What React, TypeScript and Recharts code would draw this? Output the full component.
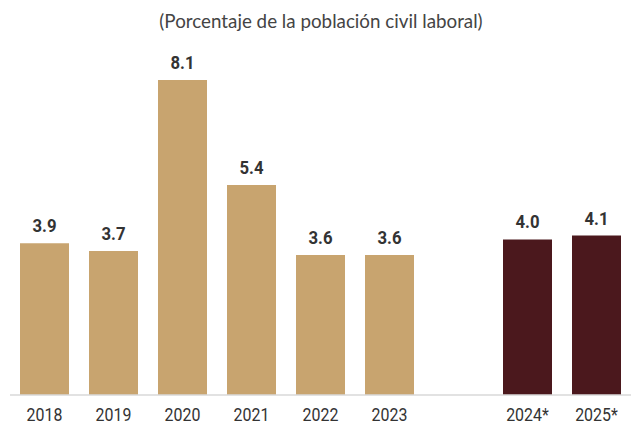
import { BarChart, Bar, XAxis, YAxis, Cell, LabelList } from "recharts";

const years = ["2018", "2019", "2020", "2021", "2022", "2023", "", "2024*", "2025*"];
const rates = [3.9, 3.7, 8.1, 5.4, 3.6, 3.6, null, 4.0, 4.1];
const projected = [false, false, false, false, false, false, false, true, true];

const data = years.map((year, i) => ({ year, rate: rates[i], projected: projected[i] }));

const TAN = "#C8A46F";
const MAROON = "#4B181D";

const YearTick = ({ x, y, payload }: any) => (
  <g transform={`translate(${x},${y})`}>
    <text
      transform="scale(0.84,1)"
      y={5}
      dy="0.71em"
      textAnchor="middle"
      fill="#333"
      fontSize={19}
      fontFamily="Roboto, sans-serif"
    >
      {payload.value}
    </text>
  </g>
);

const ValueLabel = ({ x, y, width, value }: any) => {
  if (value == null) return null;
  const cx = x + width / 2;
  return (
    <g transform={`translate(${cx},${y - 11})`}>
      <text
        transform="scale(0.88,1)"
        textAnchor="middle"
        fill="#333"
        fontSize={19}
        fontWeight={700}
        fontFamily="Roboto, sans-serif"
      >
        {Number(value).toFixed(1)}
      </text>
    </g>
  );
};

export default function App() {
  return (
    <div style={{ position: "absolute", left: 0, top: 0, width: 631, height: 427, background: "#fff" }}>
      <div
        style={{
          position: "absolute",
          top: 9,
          left: 0,
          width: 642,
          textAlign: "center",
          fontFamily: "Lato, 'Noto Sans', sans-serif",
          fontSize: 18.8,
          color: "#444",
        }}
      >
        (Porcentaje de la población civil laboral)
      </div>
      <BarChart width={631} height={427} data={data} margin={{ top: 45, right: 0, left: 10, bottom: 2 }}>
        <XAxis
          dataKey="year"
          axisLine={{ stroke: "#d9d9d9", strokeWidth: 1.5 }}
          tickLine={false}
          height={30}
          interval={0}
          tick={<YearTick />}
        />
        <YAxis hide domain={[0, 9]} />
        <Bar dataKey="rate" barSize={49} isAnimationActive={false}>
          {data.map((d, i) => (
            <Cell key={i} fill={d.projected ? MAROON : TAN} />
          ))}
          <LabelList dataKey="rate" content={<ValueLabel />} />
        </Bar>
      </BarChart>
    </div>
  );
}
